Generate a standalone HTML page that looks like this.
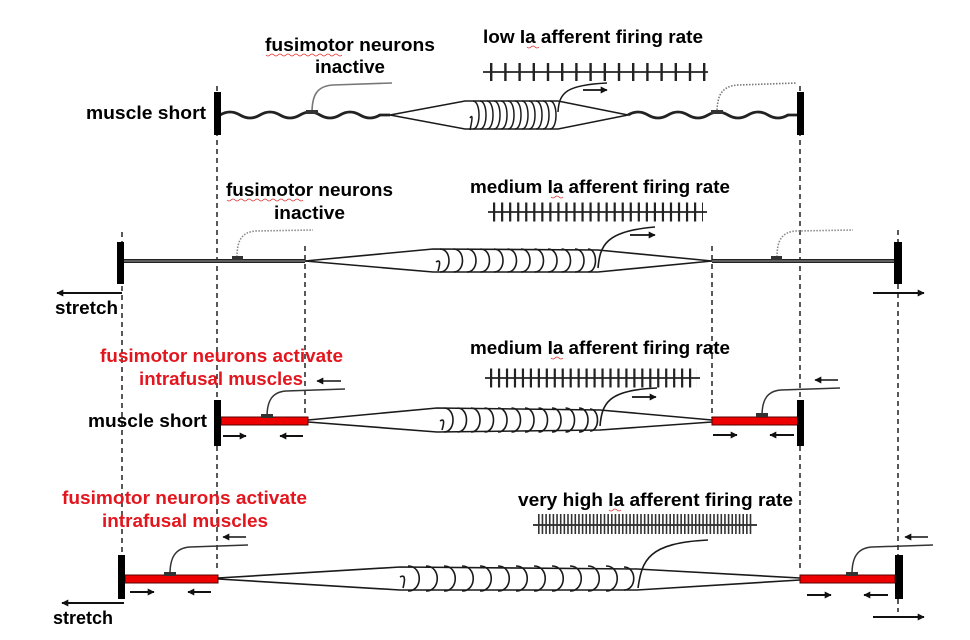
<!DOCTYPE html>
<html><head><meta charset="utf-8"><style>
html,body{margin:0;padding:0;background:#fff;}
svg{display:block;}
text{font-family:"Liberation Sans",Arial,sans-serif;font-weight:bold;}
</style></head><body>
<svg width="970" height="640" viewBox="0 0 970 640" xmlns="http://www.w3.org/2000/svg">
<defs>
<marker id="ah" viewBox="0 0 10 10" refX="9" refY="5" markerWidth="8" markerHeight="7" markerUnits="userSpaceOnUse" orient="auto">
<path d="M0,0 L10,5 L0,10 z" fill="#111"/>
</marker>
</defs>
<rect width="970" height="640" fill="#fff"/>

<!-- dashed guide lines -->
<g stroke="#222" stroke-width="1.5" stroke-dasharray="5 4" fill="none">
<line x1="217" y1="86" x2="217" y2="572"/>
<line x1="800" y1="86" x2="800" y2="572"/>
<line x1="122" y1="232" x2="122" y2="600"/>
<line x1="898" y1="230" x2="898" y2="612"/>
<line x1="305" y1="246" x2="305" y2="418"/>
<line x1="712" y1="246" x2="712" y2="418"/>
</g>

<!-- ========== ROW 1 ========== -->
<text x="265" y="51" font-size="18" textLength="170" lengthAdjust="spacingAndGlyphs">fusimotor neurons</text>
<text x="315" y="73" font-size="18" textLength="70" lengthAdjust="spacingAndGlyphs">inactive</text>
<path d="M266,55 q2,2 4,0 t4,0 t4,0 t4,0 t4,0 t4,0 t4,0 t4,0 t4,0 t4,0 t4,0 t4,0 t4,0 t4,0 t4,0 t4,0 t4,0 t4,0 t4,0" stroke="#d33" stroke-width="0.8" fill="none"/>
<text x="483" y="43" font-size="18" textLength="220" lengthAdjust="spacingAndGlyphs">low Ia afferent firing rate</text>
<path d="M527,47 q2,2 4,0 t4,0 t4,0" stroke="#d33" stroke-width="0.8" fill="none"/>
<line x1="483" y1="72" x2="708" y2="72" stroke="#222" stroke-width="1.8"/>
<line x1="490" y1="72" x2="706" y2="72" stroke="#222" stroke-width="18" stroke-dasharray="2.4 11.8"/>
<text x="86" y="119" font-size="18" textLength="120" lengthAdjust="spacingAndGlyphs">muscle short</text>

<path d="M220,115 Q230,109 240,115 T260,115 T280,115 T300,115 T320,115 T340,115 T360,115 T380,115 L390,115" stroke="#222" stroke-width="2.8" fill="none"/>
<path d="M628,115 Q638,109 648,115 T668,115 T688,115 T708,115 T728,115 T748,115 T768,115 T788,115 L797,115" stroke="#222" stroke-width="2.8" fill="none"/>
<g stroke="#1a1a1a" stroke-width="1.5" fill="none">
<path d="M390,115 L465,101 L558,101 L628,115"/>
<path d="M390,115 L465,129 L558,129 L628,115"/>
<path d="M470,118 q4,-6 0,12"/>
<path d="M473,101 c8,0 8,28 0,28 M480,101 c8,0 8,28 0,28 M487,101 c8,0 8,28 0,28 M494,101 c8,0 8,28 0,28 M501,101 c8,0 8,28 0,28 M508,101 c8,0 8,28 0,28 M515,101 c8,0 8,28 0,28 M522,101 c8,0 8,28 0,28 M529,101 c8,0 8,28 0,28 M536,101 c8,0 8,28 0,28 M543,101 c8,0 8,28 0,28 M550,101 c8,0 8,28 0,28"/>
<path d="M558,112 C559,92 567,85 607,83"/>
</g>
<line x1="583" y1="90" x2="607" y2="90" stroke="#111" stroke-width="1.8" marker-end="url(#ah)"/>
<path d="M312,113 C312,95 317,86 333,85 L392,83" stroke="#777" stroke-width="1.6" fill="none"/>
<rect x="306" y="110" width="12" height="4" fill="#333"/>
<path d="M717,113 C717,95 722,86 738,85 L797,83" stroke="#777" stroke-width="1.6" fill="none" stroke-dasharray="1.5 1.5"/>
<rect x="711" y="110" width="12" height="4" fill="#333"/>
<rect x="214" y="92" width="7" height="43" fill="#000"/>
<rect x="797" y="92" width="7" height="43" fill="#000"/>

<!-- ========== ROW 2 ========== -->
<text x="226" y="196" font-size="18" textLength="167" lengthAdjust="spacingAndGlyphs">fusimotor neurons</text>
<path d="M227,200 q2,2 4,0 t4,0 t4,0 t4,0 t4,0 t4,0 t4,0 t4,0 t4,0 t4,0 t4,0 t4,0 t4,0 t4,0 t4,0 t4,0 t4,0 t4,0 t4,0" stroke="#d33" stroke-width="0.8" fill="none"/>
<text x="274" y="219" font-size="18" textLength="71" lengthAdjust="spacingAndGlyphs">inactive</text>
<text x="470" y="193" font-size="18" textLength="260" lengthAdjust="spacingAndGlyphs">medium Ia afferent firing rate</text>
<path d="M551,197 q2,2 4,0 t4,0 t4,0" stroke="#d33" stroke-width="0.8" fill="none"/>
<line x1="488" y1="212" x2="707" y2="212" stroke="#222" stroke-width="1.8"/>
<line x1="493" y1="212" x2="703" y2="212" stroke="#222" stroke-width="19" stroke-dasharray="2.2 5.84"/>

<line x1="124" y1="261" x2="305" y2="261" stroke="#222" stroke-width="4"/>
<line x1="124" y1="261" x2="305" y2="261" stroke="#999" stroke-width="1"/>
<line x1="712" y1="261" x2="894" y2="261" stroke="#222" stroke-width="4"/>
<line x1="712" y1="261" x2="894" y2="261" stroke="#999" stroke-width="1"/>
<g stroke="#1a1a1a" stroke-width="1.6" fill="none">
<path d="M305,261 L433,249 L598,250 L712,261"/>
<path d="M305,261 L433,272 L598,272 L712,261"/>
<path d="M436,262 q6,-4 2,9"/>
<path d="M440,249 c12,0 12,23 0,23 M453.5,249 c12,0 12,23 0,23 M467,249 c12,0 12,23 0,23 M480.5,249 c12,0 12,23 0,23 M494,249 c12,0 12,23 0,23 M507.5,249 c12,0 12,23 0,23 M521,249 c12,0 12,23 0,23 M534.5,249 c12,0 12,23 0,23 M548,249 c12,0 12,23 0,23 M561.5,249 c12,0 12,23 0,23 M575,249 c12,0 12,23 0,23 M588,249 c10,0 10,23 0,23"/>
<path d="M598,268 C600,246 605,231 655,227"/>
</g>
<line x1="630" y1="235" x2="655" y2="235" stroke="#111" stroke-width="1.8" marker-end="url(#ah)"/>
<path d="M237,257 C237,240 242,232 256,231 L313,230" stroke="#888" stroke-width="1.6" fill="none" stroke-dasharray="1.5 1.5"/>
<rect x="232" y="256" width="11" height="4" fill="#333"/>
<path d="M777,257 C777,240 782,232 796,231 L853,230" stroke="#888" stroke-width="1.6" fill="none" stroke-dasharray="1.5 1.5"/>
<rect x="771" y="256" width="11" height="4" fill="#333"/>
<rect x="117" y="242" width="7" height="42" fill="#000"/>
<rect x="894" y="242" width="8" height="42" fill="#000"/>
<line x1="122" y1="293" x2="57" y2="293" stroke="#111" stroke-width="2" marker-end="url(#ah)"/>
<line x1="873" y1="293" x2="924" y2="293" stroke="#111" stroke-width="2" marker-end="url(#ah)"/>
<text x="55" y="314" font-size="18" textLength="63" lengthAdjust="spacingAndGlyphs">stretch</text>

<!-- ========== ROW 3 ========== -->
<text x="100" y="362" font-size="18" fill="#e3161e" textLength="243" lengthAdjust="spacingAndGlyphs">fusimotor neurons activate</text>
<text x="139" y="385" font-size="18" fill="#e3161e" textLength="164" lengthAdjust="spacingAndGlyphs">intrafusal muscles</text>
<text x="470" y="354" font-size="18" textLength="260" lengthAdjust="spacingAndGlyphs">medium Ia afferent firing rate</text>
<path d="M551,358 q2,2 4,0 t4,0 t4,0" stroke="#d33" stroke-width="0.8" fill="none"/>
<line x1="485" y1="378" x2="700" y2="378" stroke="#222" stroke-width="1.8"/>
<line x1="490" y1="378" x2="697" y2="378" stroke="#222" stroke-width="19" stroke-dasharray="2.2 5.76"/>
<text x="88" y="427" font-size="18" textLength="119" lengthAdjust="spacingAndGlyphs">muscle short</text>

<g stroke="#1a1a1a" stroke-width="1.6" fill="none">
<path d="M308,420 L437,408 L600,410 L712,420"/>
<path d="M308,422 L437,432 L600,430 L712,422"/>
<path d="M440,421 q6,-4 2,9"/>
<path d="M444,408 c12,0 12,24 0,24 M457.5,408 c12,0 12,24 0,24 M471,408 c12,0 12,24 0,24 M484.5,408 c12,0 12,24 0,24 M498,408 c12,0 12,24 0,24 M511.5,408 c12,0 12,24 0,24 M525,408 c12,0 12,24 0,24 M538.5,408 c12,0 12,24 0,24 M552,408 c12,0 12,24 0,24 M565.5,408 c12,0 12,24 0,24 M579,408 c12,0 12,24 0,24 M590,409 c10,0 10,22 0,22"/>
<path d="M600,426 C602,404 607,390 657,388"/>
</g>
<line x1="632" y1="397" x2="656" y2="397" stroke="#111" stroke-width="1.8" marker-end="url(#ah)"/>
<rect x="221" y="417" width="87" height="8" fill="#e00" stroke="#500" stroke-width="1"/>
<rect x="712" y="417" width="86" height="8" fill="#e00" stroke="#500" stroke-width="1"/>
<path d="M267,417 C267,401 272,392 286,391 L345,389" stroke="#333" stroke-width="1.5" fill="none"/>
<rect x="261" y="414" width="12" height="4" fill="#333"/>
<path d="M762,416 C762,400 767,391 781,390 L840,388" stroke="#333" stroke-width="1.5" fill="none"/>
<rect x="756" y="413" width="12" height="4" fill="#333"/>
<rect x="214" y="400" width="7" height="46" fill="#000"/>
<rect x="797" y="400" width="7" height="46" fill="#000"/>
<line x1="341" y1="381" x2="317" y2="381" stroke="#111" stroke-width="1.6" marker-end="url(#ah)"/>
<line x1="838" y1="380" x2="815" y2="380" stroke="#111" stroke-width="1.6" marker-end="url(#ah)"/>
<line x1="223" y1="436" x2="246" y2="436" stroke="#111" stroke-width="2" marker-end="url(#ah)"/>
<line x1="303" y1="436" x2="280" y2="436" stroke="#111" stroke-width="2" marker-end="url(#ah)"/>
<line x1="713" y1="435" x2="737" y2="435" stroke="#111" stroke-width="2" marker-end="url(#ah)"/>
<line x1="794" y1="435" x2="770" y2="435" stroke="#111" stroke-width="2" marker-end="url(#ah)"/>

<!-- ========== ROW 4 ========== -->
<text x="62" y="504" font-size="18" fill="#e3161e" textLength="245" lengthAdjust="spacingAndGlyphs">fusimotor neurons activate</text>
<text x="102" y="527" font-size="18" fill="#e3161e" textLength="166" lengthAdjust="spacingAndGlyphs">intrafusal muscles</text>
<text x="518" y="506" font-size="18" textLength="275" lengthAdjust="spacingAndGlyphs">very high Ia afferent firing rate</text>
<path d="M609,510 q2,2 4,0 t4,0 t4,0" stroke="#d33" stroke-width="0.8" fill="none"/>
<line x1="533" y1="525" x2="757" y2="525" stroke="#222" stroke-width="1.8"/>
<line x1="538" y1="524" x2="752" y2="524" stroke="#333" stroke-width="20" stroke-dasharray="1.6 2.05"/>

<g stroke="#1a1a1a" stroke-width="1.6" fill="none">
<path d="M218,578 L400,567 L637,569 L800,578"/>
<path d="M218,579 L400,590 L637,590 L800,580"/>
<path d="M400,577 q7,-4 3,11"/>
<path d="M408,566 c15,0 15,25 0,25 M426,566 c15,0 15,25 0,25 M444,566 c15,0 15,25 0,25 M462,566 c15,0 15,25 0,25 M480,566 c15,0 15,25 0,25 M498,566 c15,0 15,25 0,25 M516,566 c15,0 15,25 0,25 M534,566 c15,0 15,25 0,25 M552,566 c15,0 15,25 0,25 M570,566 c15,0 15,25 0,25 M588,566 c15,0 15,25 0,25 M606,566 c15,0 15,25 0,25 M624,567 c13,0 13,23 0,23"/>
<path d="M638,588 C642,560 648,543 708,540"/>
</g>
<rect x="125" y="575" width="93" height="8" fill="#e00" stroke="#500" stroke-width="1"/>
<rect x="800" y="575" width="95" height="8" fill="#e00" stroke="#500" stroke-width="1"/>
<path d="M170,574 C170,558 175,548 190,547 L248,545" stroke="#333" stroke-width="1.5" fill="none"/>
<rect x="164" y="572" width="12" height="4" fill="#333"/>
<path d="M852,574 C852,558 857,548 872,547 L933,545" stroke="#333" stroke-width="1.5" fill="none"/>
<rect x="846" y="572" width="12" height="4" fill="#333"/>
<rect x="118" y="555" width="7" height="44" fill="#000"/>
<rect x="895" y="555" width="8" height="44" fill="#000"/>
<line x1="246" y1="537" x2="223" y2="537" stroke="#111" stroke-width="1.6" marker-end="url(#ah)"/>
<line x1="928" y1="537" x2="905" y2="537" stroke="#111" stroke-width="1.6" marker-end="url(#ah)"/>
<line x1="130" y1="592" x2="154" y2="592" stroke="#111" stroke-width="2" marker-end="url(#ah)"/>
<line x1="211" y1="592" x2="188" y2="592" stroke="#111" stroke-width="2" marker-end="url(#ah)"/>
<line x1="807" y1="595" x2="831" y2="595" stroke="#111" stroke-width="2" marker-end="url(#ah)"/>
<line x1="888" y1="595" x2="864" y2="595" stroke="#111" stroke-width="2" marker-end="url(#ah)"/>
<line x1="124" y1="603" x2="62" y2="603" stroke="#111" stroke-width="2" marker-end="url(#ah)"/>
<line x1="873" y1="617" x2="924" y2="617" stroke="#111" stroke-width="2" marker-end="url(#ah)"/>
<text x="53" y="624" font-size="18" textLength="60" lengthAdjust="spacingAndGlyphs">stretch</text>
</svg>
</body></html>
